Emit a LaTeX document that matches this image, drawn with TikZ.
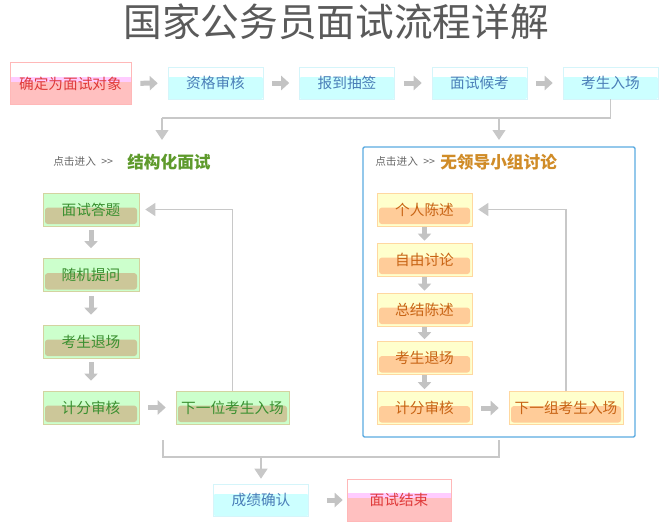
\documentclass[tikz,border=0pt]{standalone}
\usepackage{fontspec}
\setmainfont{Noto Sans CJK SC}
\usetikzlibrary{arrows.meta,positioning}
\definecolor{titlegray}{HTML}{5A5A5A}
\definecolor{hintgray}{HTML}{666666}
\definecolor{linegray}{HTML}{C8C8C8}
\definecolor{blockgray}{HTML}{C3C3C3}
\definecolor{pinkfill}{HTML}{FFC0C0}
\definecolor{pinkband}{HTML}{FFCCFF}
\definecolor{pinkline}{HTML}{FFB8B8}
\definecolor{pinktext}{HTML}{E03A3A}
\definecolor{cyanfill}{HTML}{CCFFFF}
\definecolor{cyanline}{HTML}{D5F5FA}
\definecolor{cyantext}{HTML}{4A7EB8}
\definecolor{greentop}{HTML}{CCFFCC}
\definecolor{greenband}{HTML}{CCC799}
\definecolor{greenline}{HTML}{D3D3A0}
\definecolor{greentext}{HTML}{3A9030}
\definecolor{orangetop}{HTML}{FFFFCC}
\definecolor{orangeband}{HTML}{FFCC99}
\definecolor{orangeline}{HTML}{FFD8A0}
\definecolor{orangetext}{HTML}{C86414}
\definecolor{frameblue}{HTML}{5AAAE0}
\definecolor{headgreen}{HTML}{5E9A2C}
\definecolor{headorange}{HTML}{D08C28}

\begin{document}
\begin{tikzpicture}[x=0.75pt,y=-0.75pt,
    box/.style={inner sep=0pt, font=\fontsize{11}{13}\selectfont},
    cyanbox/.style={box, draw=cyanline, fill=white, text=cyantext,
        minimum width=71.25pt, minimum height=24pt,
        path picture={\fill[cyanfill, rounded corners=1.5pt]
            ([yshift=-7.5pt]path picture bounding box.north west)
            rectangle (path picture bounding box.south east);}},
    pinkbox/.style={box, draw=pinkline, fill=white, text=pinktext,
        minimum height=31.5pt,
        path picture={\fill[pinkband]
            ([yshift=-10.5pt]path picture bounding box.north west)
            rectangle (path picture bounding box.south east);
            \fill[pinkfill]
            ([yshift=-14.25pt]path picture bounding box.north west)
            rectangle (path picture bounding box.south east);}},
    greenbox/.style={box, draw=greenline, fill=greentop, text=greentext,
        minimum width=72pt, minimum height=24.75pt,
        path picture={\fill[greenband, rounded corners=2pt]
            ([xshift=1.5pt,yshift=-11pt]path picture bounding box.north west)
            rectangle ([xshift=-1.5pt,yshift=1.5pt]path picture bounding box.south east);}},
    orangebox/.style={box, draw=orangeline, fill=orangetop, text=orangetext,
        minimum width=71.25pt, minimum height=24.75pt,
        path picture={\fill[orangeband, rounded corners=2pt]
            ([xshift=1.5pt,yshift=-11pt]path picture bounding box.north west)
            rectangle ([xshift=-1.5pt,yshift=1.5pt]path picture bounding box.south east);}},
    hint/.style={inner sep=0pt, anchor=west, text=hintgray, font=\fontsize{8}{10}\selectfont},
    heading/.style={inner sep=0pt, anchor=west, font=\fontsize{12.5}{15}\selectfont\bfseries},
    conn/.style={draw=linegray, line width=0.9pt},
    connarrow/.style={conn, -{Triangle[width=9.75pt,length=7.5pt]}},
    hblock/.style={draw=blockgray, line width=3.75pt, -{Triangle[width=10.5pt,length=6pt]},
        shorten <=6.75pt, shorten >=7.5pt},
    vblock/.style={draw=blockgray, line width=3.75pt, -{Triangle[width=9.75pt,length=5.25pt]}}]
    \useasboundingbox (0,0) rectangle (664,525);

    \node[font=\fontsize{29}{33}\selectfont, text=titlegray] (title) at (336,22) {国家公务员面试流程详解};

    % top row
    \node[pinkbox, minimum width=90.75pt] (target) at (70.5,83.5) {确定为面试对象};
    \foreach \name/\txt/\x in {check/资格审核/215.5, draw/报到抽签/347, wait/面试候考/479.5, enter/考生入场/610.5}{
        \node[cyanbox] (\name) at (\x,83) {\txt};
    }
    \foreach \a/\b in {target/check, check/draw, draw/wait, wait/enter}{
        \draw[hblock] (\a) -- (\b);
    }

    % split into the two interview types
    \coordinate (barL) at (162,118);
    \coordinate (leftin) at (162,140);
    \coordinate (rightin) at (499,140);
    \draw[conn] (enter.south) |- (barL);
    \draw[connarrow] (barL) -- (leftin);
    \draw[connarrow] (rightin |- barL) -- (rightin);

    % structured interview
    \node[hint] (lhint) at (53,161) {点击进入\hspace{4pt}{>}{>}};
    \node[heading, text=headgreen] (lhead) at (127,162) {结构化面试};
    \foreach \name/\txt/\y in {ans/面试答题/209.5, ask/随机提问/275, out/考生退场/341.5, mark/计分审核/407.5}{
        \node[greenbox] (l\name) at (91,\y) {\txt};
    }
    \foreach \a/\b in {ans/ask, ask/out, out/mark}{
        \draw[vblock, shorten <=3pt, shorten >=7.5pt] (l\a) -- (l\b);
    }
    \node[greenbox, minimum width=84.75pt] (lnext) at (232.5,407.5) {下一位考生入场};
    \draw[hblock] (lmark) -- (lnext);
    \draw[connarrow] (lnext.north) |- ([xshift=4.5pt]lans.east);

    % leaderless group discussion
    \draw[frameblue, line width=1.1pt, rounded corners=1pt] (363,147) rectangle (635,437);
    \node[hint] (rhint) at (375,161) {点击进入\hspace{4pt}{>}{>}};
    \node[heading, text=headorange] (rhead) at (440,162) {无领导小组讨论};
    \foreach \name/\txt/\y in {self/个人陈述/209.5, free/自由讨论/259.5, sum/总结陈述/309.5, out/考生退场/358, mark/计分审核/408}{
        \node[orangebox] (r\name) at (424.5,\y) {\txt};
    }
    \foreach \a/\b in {self/free, free/sum, sum/out, out/mark}{
        \draw[vblock, shorten <=0.5pt, shorten >=1.5pt] (r\a) -- (r\b);
    }
    \node[orangebox, minimum width=85.5pt] (rnext) at (566,408) {下一组考生入场};
    \draw[hblock] (rmark) -- (rnext);
    \draw[connarrow] (rnext.north) |- ([xshift=4.5pt]rself.east);

    % result
    \node[cyanbox] (score) at (261,500) {成绩确认};
    \node[pinkbox, minimum width=78pt] (finish) at (399,500) {面试结束};
    \coordinate (joinL) at (163,440);
    \coordinate (joinR) at (499,440);
    \draw[conn] (joinL) -- ++(0,17) -| (joinR);
    \draw[connarrow, shorten >=3.75pt] (score.north |- 0,457) -- (score.north);
    \draw[hblock, shorten <=13.5pt, shorten >=3pt] (score) -- (finish);
\end{tikzpicture}
\end{document}
